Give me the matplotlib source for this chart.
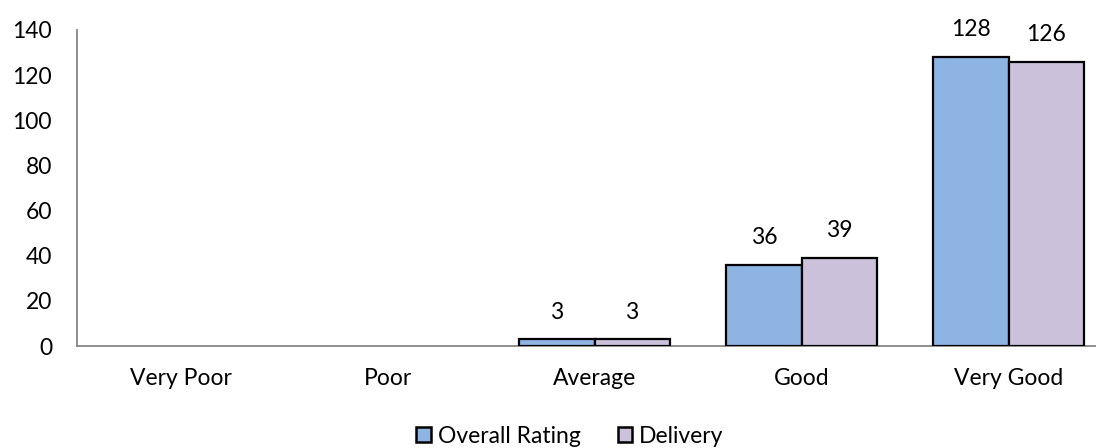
import matplotlib
matplotlib.use("Agg")
import matplotlib.pyplot as plt
import numpy as np
from matplotlib.patches import Patch

categories = ["Very Poor", "Poor", "Average", "Good", "Very Good"]
overall_rating = [0, 0, 3, 36, 128]
delivery = [0, 0, 3, 39, 126]
y_ticks = [0, 20, 40, 60, 80, 100, 120, 140]

plt.rcParams['font.family'] = ['Lato', 'DejaVu Sans']
FS = 16.5

W, H = 1096, 448
fig = plt.figure(figsize=(W / 100, H / 100), dpi=100)
ax = fig.add_axes([77 / W, 102 / H, (W - 77) / W, 316 / H])

x = np.arange(len(categories))
bw = 0.363
c1, c2 = "#8EB4E3", "#CCC1DA"
for off, vals, col in ((-bw / 2, overall_rating, c1), (bw / 2, delivery, c2)):
    # zero-height bars get no outline
    widths = [1.6 if v > 0 else 0 for v in vals]
    bars = ax.bar(x + off, vals, bw, color=col, edgecolor="black", linewidth=widths, zorder=3)
    for r, v in zip(bars, vals):
        if v > 0:
            ax.annotate(str(v), (r.get_x() + r.get_width() / 2, v), xytext=(0, 12),
                        textcoords="offset points", ha="center", va="bottom", fontsize=FS)

ax.set_xlim(-0.5, -0.5 + (W - 77) / 207)
ax.set_ylim(0, 140)
ax.set_yticks(y_ticks)
ax.set_xticks(x)
ax.set_xticklabels(categories)
ax.tick_params(axis="both", length=0, labelsize=FS)
ax.tick_params(axis="y", pad=18)
ax.tick_params(axis="x", pad=16)
for s in ("top", "right"):
    ax.spines[s].set_visible(False)
for s in ("left", "bottom"):
    ax.spines[s].set_color("#868686")
    ax.spines[s].set_linewidth(1.3)

handles = [Patch(facecolor=c1, edgecolor="black", linewidth=1.8, label="Overall Rating"),
           Patch(facecolor=c2, edgecolor="black", linewidth=1.8, label="Delivery")]
fig.legend(handles=handles, loc="center", bbox_to_anchor=(570 / W, 1 - 436 / H), ncol=2,
           frameon=False, fontsize=FS, handlelength=0.65, handleheight=0.65,
           handletextpad=0.3, columnspacing=1.6)

fig.savefig("out.png", dpi=100)
